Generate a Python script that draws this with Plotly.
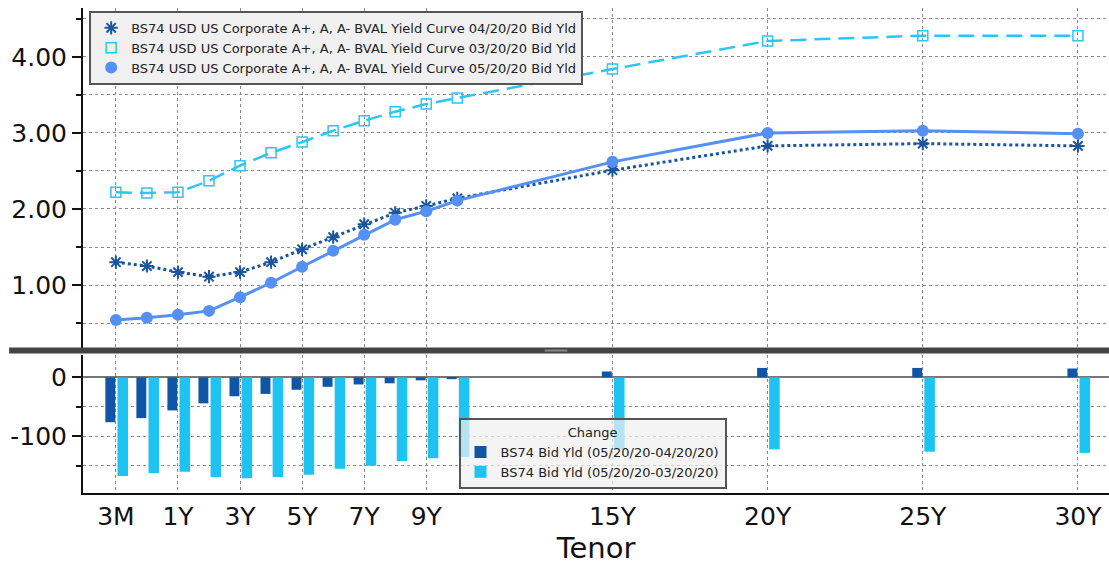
import plotly.graph_objects as go

# ---- data ----
tenors = ["3M", "6M", "1Y", "2Y", "3Y", "4Y", "5Y", "6Y", "7Y", "8Y", "9Y", "10Y", "15Y", "20Y", "25Y", "30Y"]
tenor_pos = [-1, 0, 1, 2, 3, 4, 5, 6, 7, 8, 9, 10, 15, 20, 25, 30]
tick_labels = ["3M", "1Y", "3Y", "5Y", "7Y", "9Y", "15Y", "20Y", "25Y", "30Y"]
tick_pos = [-1, 1, 3, 5, 7, 9, 15, 20, 25, 30]

y_0420 = [1.30, 1.25, 1.17, 1.11, 1.17, 1.30, 1.47, 1.63, 1.80, 1.95, 2.04, 2.14, 2.51, 2.83, 2.86, 2.83]
y_0320 = [2.22, 2.21, 2.22, 2.37, 2.57, 2.74, 2.88, 3.03, 3.16, 3.28, 3.38, 3.46, 3.84, 4.21, 4.28, 4.28]
y_0520 = [0.54, 0.57, 0.61, 0.66, 0.84, 1.03, 1.24, 1.45, 1.66, 1.86, 1.97, 2.11, 2.62, 3.00, 3.03, 2.99]

chg_vs_0420 = [-76, -69, -56, -44, -32, -28, -21, -16, -12, -10, -5, -3, 10, 16, 16, 15]
chg_vs_0320 = [-167, -162, -160, -169, -171, -169, -165, -155, -150, -142, -137, -135, -122, -122, -126, -128]

names = [
    "BS74 USD US Corporate A+, A, A- BVAL Yield Curve 04/20/20 Bid Yld",
    "BS74 USD US Corporate A+, A, A- BVAL Yield Curve 03/20/20 Bid Yld",
    "BS74 USD US Corporate A+, A, A- BVAL Yield Curve 05/20/20 Bid Yld",
]
bar_names = ["BS74 Bid Yld (05/20/20-04/20/20)", "BS74 Bid Yld (05/20/20-03/20/20)"]

C_DARK = "#1a55a0"
C_CYAN = "#2ec4f3"
C_SOLID = "#5590f4"
C_BAR_DARK = "#0f56a6"
C_BAR_LIGHT = "#1ec3f2"
FONT = "DejaVu Sans"

series = [
    (names[0], y_0420, dict(color=C_DARK, width=3, dash="dot"),
     dict(symbol="asterisk-open", size=11, color=C_DARK, line=dict(color=C_DARK, width=2))),
    (names[1], y_0320, dict(color=C_CYAN, width=2.5, dash="16px,8px"),
     dict(symbol="square-open", size=10, color=C_CYAN, line=dict(color=C_CYAN, width=1.5))),
    (names[2], y_0520, dict(color=C_SOLID, width=3),
     dict(symbol="circle", size=12, color=C_SOLID)),
]

fig = go.Figure()

for name, ys, ln, mk in series:
    fig.add_trace(go.Scatter(
        x=tenor_pos, y=ys, name=name, mode="lines+markers", line=ln, marker=mk,
        xaxis="x", yaxis="y", showlegend=False))
# marker-only legend entries (as in the reference legend)
for name, ys, ln, mk in series:
    fig.add_trace(go.Scatter(
        x=[None], y=[None], name=name, mode="markers", marker=mk,
        xaxis="x", yaxis="y", legend="legend", showlegend=True))

fig.add_trace(go.Bar(
    x=tenor_pos, y=chg_vs_0420, name=bar_names[0],
    marker=dict(color=C_BAR_DARK, line=dict(width=0)),
    width=0.32, offset=-0.34, xaxis="x2", yaxis="y2", legend="legend2"))
fig.add_trace(go.Bar(
    x=tenor_pos, y=chg_vs_0320, name=bar_names[1],
    marker=dict(color=C_BAR_LIGHT, line=dict(width=0)),
    width=0.34, offset=0.05, xaxis="x2", yaxis="y2", legend="legend2"))

grid = dict(showgrid=True, gridcolor="#8a8a8a", griddash="dot", gridwidth=1)
xr = [-2.06, 31.0]

fig.update_layout(
    width=1109, height=569,
    margin=dict(l=83, r=0, t=0, b=76, autoexpand=False),
    paper_bgcolor="white", plot_bgcolor="white",
    font=dict(family=FONT, color="#111"),
    barmode="overlay",
    xaxis=dict(domain=[0, 1], range=xr, tickvals=tick_pos, ticktext=[""] * len(tick_pos),
               showline=False, zeroline=False, ticks="", anchor="y", automargin=False, **grid),
    yaxis=dict(domain=[0.29, 0.984], range=[0.145, 4.645],
               tickvals=[1, 2, 3, 4], ticktext=["1.00", "2.00", "3.00", "4.00"],
               tickfont=dict(size=25), ticks="outside", ticklen=9, tickwidth=2, tickcolor="#111",
               showline=True, linecolor="#111", linewidth=2, zeroline=False, automargin=False,
               minor=dict(tickvals=[0.5, 1.5, 2.5, 3.5, 4.5], ticks="outside", ticklen=5,
                          tickcolor="#111", showgrid=True, gridcolor="#8a8a8a", griddash="dot"),
               anchor="x", **grid),
    xaxis2=dict(domain=[0, 1], range=xr, tickvals=tick_pos, ticktext=tick_labels,
                tickfont=dict(size=25), ticks="", showline=True, linecolor="#111", linewidth=2,
                zeroline=False, anchor="y2", automargin=False, ticklabelstandoff=0,
                title=dict(text="Tenor", font=dict(size=29), standoff=4), **grid),
    yaxis2=dict(domain=[0, 0.28], range=[-196, 38],
                tickvals=[0, -100], ticktext=["0", "-100"],
                tickfont=dict(size=25), ticks="outside", ticklen=9, tickwidth=2, tickcolor="#111",
                showline=True, linecolor="#111", linewidth=2, automargin=False,
                zeroline=True, zerolinecolor="#777", zerolinewidth=2,
                minor=dict(tickvals=[-50, -150], ticks="outside", ticklen=5, tickcolor="#111",
                           showgrid=True, gridcolor="#8a8a8a", griddash="dot"),
                anchor="x2", **grid),
    legend=dict(x=0.006, y=0.978, xanchor="left", yanchor="top",
                bgcolor="#f0f0f0", bordercolor="#555", borderwidth=2,
                font=dict(family=FONT, size=13, color="#222"),
                itemwidth=30, tracegroupgap=0),
    legend2=dict(x=0.366, y=0.152, xanchor="left", yanchor="top",
                 bgcolor="rgba(240,240,240,0.72)", bordercolor="#555", borderwidth=2,
                 font=dict(family=FONT, size=13, color="#222"),
                 title=dict(text="Change", side="top center", font=dict(family=FONT, size=13, color="#222")),
                 itemwidth=30),
    showlegend=True,
)

# separator bar between panels
fig.add_shape(type="rect", xref="paper", yref="paper", x0=-0.072, x1=1.0, y0=0.283, y1=0.295,
              fillcolor="#444", line=dict(width=0), layer="above")
fig.add_shape(type="rect", xref="paper", yref="paper", x0=0.45, x1=0.472, y0=0.287, y1=0.291,
              fillcolor="#8a8a8a", line=dict(width=0), layer="above")

fig.write_html("out.html", config={"displayModeBar": False},
               post_script="document.body.style.margin='0';document.body.style.overflow='hidden';")
